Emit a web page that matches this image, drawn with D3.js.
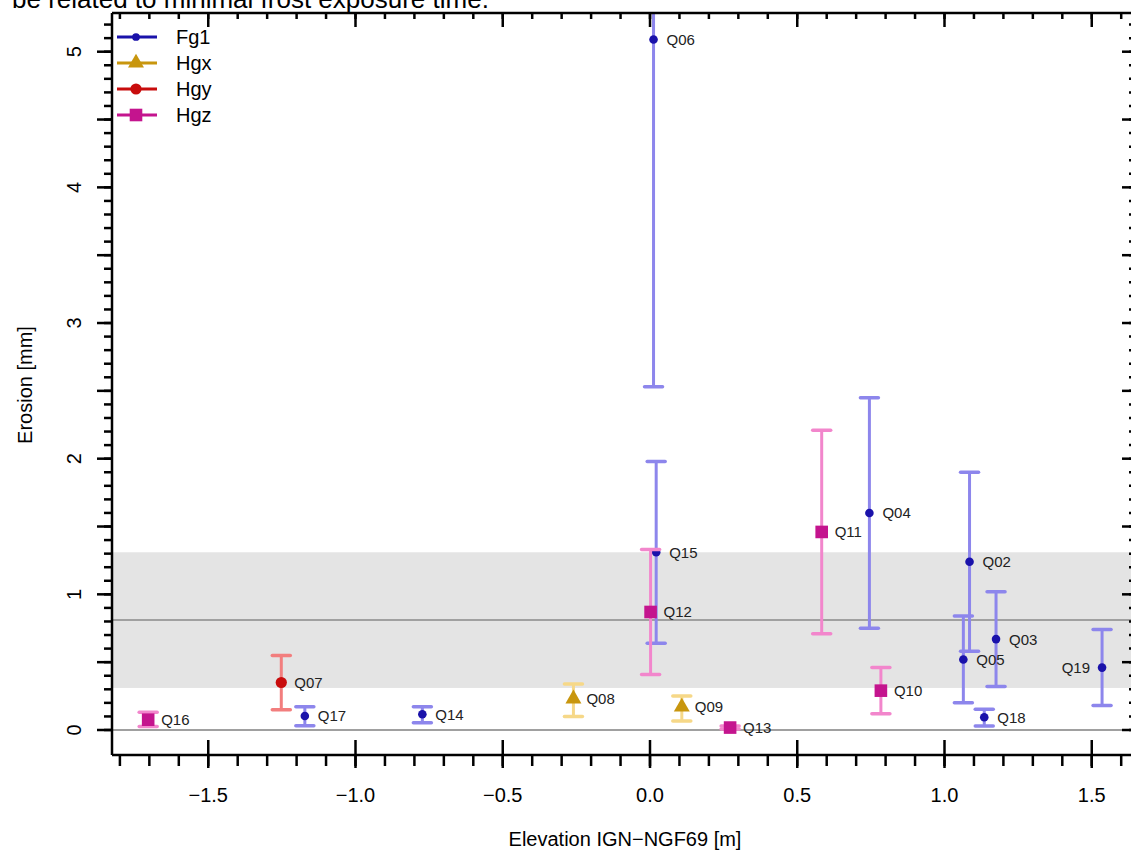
<!DOCTYPE html>
<html><head><meta charset="utf-8">
<script src="https://cdn.jsdelivr.net/npm/d3@7"></script>
<style>body{margin:0;background:#fff;} svg{display:block;font-family:"Liberation Sans",Arial,sans-serif;}</style>
</head><body><div id="chart"></div>
<script>
// ---- data ----
const seriesNames = ["Fg1","Hgx","Hgy","Hgz"];
const sampleIds   = ["Q06","Q15","Q04","Q02","Q05","Q03","Q18","Q19","Q17","Q14","Q08","Q09","Q07","Q12","Q11","Q10","Q16","Q13"];
const sampleGroup = ["Fg1","Fg1","Fg1","Fg1","Fg1","Fg1","Fg1","Fg1","Fg1","Fg1","Hgx","Hgx","Hgy","Hgz","Hgz","Hgz","Hgz","Hgz"];
const elevation   = [0.012,0.021,0.745,1.085,1.064,1.175,1.135,1.535,-1.172,-0.773,-0.260,0.108,-1.252,0.002,0.583,0.784,-1.704,0.272];
const erosion     = [5.09,1.31,1.60,1.24,0.52,0.67,0.094,0.46,0.103,0.116,0.23,0.17,0.35,0.87,1.46,0.29,0.076,0.018];
const erosionLow  = [2.53,0.64,0.75,0.58,0.20,0.32,0.029,0.18,0.032,0.054,0.10,0.066,0.15,0.41,0.71,0.12,0.025,0.008];
const erosionHigh = [7.65,1.98,2.45,1.90,0.84,1.02,0.153,0.74,0.172,0.172,0.34,0.25,0.55,1.33,2.21,0.46,0.13,0.030];
const labelSide   = ["r","r","r","r","r","r","r","l","r","r","r","r","r","r","r","r","r","r"];
const meanErosion = 0.81, bandLow = 0.31, bandHigh = 1.31;
const xTicksMajor = [-1.5,-1.0,-0.5,0.0,0.5,1.0,1.5];
const yTicksLabel = [0,1,2,3,4,5];
const xLabel = "Elevation IGN\u2212NGF69 [m]";
const yLabel = "Erosion [mm]";
const topText = "be related to minimal frost exposure time.";

// ---- styles ----
const markerColor = {Fg1:"#1a12aa", Hgx:"#c8960e", Hgy:"#c80c0c", Hgz:"#c4148e"};
const barColor    = {Fg1:"#8d86ec", Hgx:"#f6d888", Hgy:"#f27e7e", Hgz:"#f286cc"};
const W = 1131, H = 857;
const L = 112, R = 1133, T = 13, B = 755;

const svg = d3.select("#chart").append("svg").attr("width",W).attr("height",H);
const x = d3.scaleLinear().domain([(L-650)/294.5,(R-650)/294.5]).range([L,R]);
const y = d3.scaleLinear().domain([(730-B)/135.66,(730-T)/135.66]).range([B,T]);

svg.append("defs").append("clipPath").attr("id","clip")
  .append("rect").attr("x",L).attr("y",T).attr("width",R-L).attr("height",B-T);

svg.append("text").attr("x",12).attr("y",8).attr("font-size",26).attr("fill","#000").text(topText);

const plot = svg.append("g").attr("clip-path","url(#clip)");
plot.append("rect").attr("x",L).attr("width",R-L).attr("y",y(bandHigh)).attr("height",y(bandLow)-y(bandHigh)).attr("fill","#e4e4e4");
plot.append("line").attr("x1",L).attr("x2",R).attr("y1",y(meanErosion)).attr("y2",y(meanErosion)).attr("stroke","#a0a0a0").attr("stroke-width",2);
plot.append("line").attr("x1",L).attr("x2",R).attr("y1",y(0)).attr("y2",y(0)).attr("stroke","#a0a0a0").attr("stroke-width",2);

const rows = sampleIds.map((id,i)=>({id,g:sampleGroup[i],x:elevation[i],v:erosion[i],lo:erosionLow[i],hi:erosionHigh[i],side:labelSide[i]}));
const order = ["Fg1","Hgx","Hgy","Hgz"];
const capW = 9;
order.forEach(g=>{
  rows.filter(r=>r.g===g).forEach(r=>{
    const gg = plot.append("g");
    const cx = x(r.x);
    gg.append("line").attr("x1",cx).attr("x2",cx).attr("y1",y(r.lo)).attr("y2",y(r.hi)).attr("stroke",barColor[g]).attr("stroke-width",3);
    [r.lo,r.hi].forEach(v=>gg.append("line").attr("x1",cx-capW).attr("x2",cx+capW).attr("y1",y(v)).attr("y2",y(v)).attr("stroke",barColor[g]).attr("stroke-width",3.5).attr("stroke-linecap","round"));
    drawMarker(gg,g,cx,y(r.v),1);
  });
});
rows.forEach(r=>{
  const cx = x(r.x), cy = y(r.v);
  plot.append("text").attr("x", r.side==="r"? cx+13 : cx-12).attr("y",cy).attr("dy","0.36em")
    .attr("text-anchor", r.side==="r"?"start":"end").attr("font-size",15).attr("fill","#222").text(r.id);
});

function drawMarker(sel,g,cx,cy,s){
  if(g==="Fg1") sel.append("circle").attr("cx",cx).attr("cy",cy).attr("r",4.3*s).attr("fill",markerColor[g]);
  else if(g==="Hgy") sel.append("circle").attr("cx",cx).attr("cy",cy).attr("r",5.6*s).attr("fill",markerColor[g]);
  else if(g==="Hgz") sel.append("rect").attr("x",cx-6.3*s).attr("y",cy-6.3*s).attr("width",12.6*s).attr("height",12.6*s).attr("fill",markerColor[g]);
  else sel.append("path").attr("d",d3.symbol(d3.symbolTriangle, 110*s*s)()).attr("transform",`translate(${cx},${cy})`).attr("fill",markerColor[g]);
}

// ---- axes ----
const minorX = d3.range(-18,17).map(d=>d/10);
const minorY = d3.range(0,53).map(d=>d/10);
const majorY = d3.range(0,11).map(d=>d/2);
const ax = svg.append("g").attr("stroke","#000").attr("stroke-width",2.5);
// box
ax.append("line").attr("x1",L).attr("x2",R).attr("y1",B).attr("y2",B);
ax.append("line").attr("x1",L).attr("x2",R).attr("y1",T).attr("y2",T);
ax.append("line").attr("x1",L).attr("x2",L).attr("y1",T).attr("y2",B);
ax.append("line").attr("x1",R).attr("x2",R).attr("y1",T).attr("y2",B);
// bottom
minorX.forEach(v=>ax.append("line").attr("x1",x(v)).attr("x2",x(v)).attr("y1",B).attr("y2",B+11));
xTicksMajor.forEach(v=>ax.append("line").attr("x1",x(v)).attr("x2",x(v)).attr("y1",B-15).attr("y2",B+13));
// top (inward)
minorX.forEach(v=>ax.append("line").attr("x1",x(v)).attr("x2",x(v)).attr("y1",T).attr("y2",T+6));
xTicksMajor.forEach(v=>ax.append("line").attr("x1",x(v)).attr("x2",x(v)).attr("y1",T).attr("y2",T+14));
// left (outward)
minorY.forEach(v=>ax.append("line").attr("x1",L-8).attr("x2",L).attr("y1",y(v)).attr("y2",y(v)));
majorY.forEach(v=>ax.append("line").attr("x1",L-15).attr("x2",L).attr("y1",y(v)).attr("y2",y(v)));
// right (inward)
minorY.forEach(v=>ax.append("line").attr("x1",R-4).attr("x2",R).attr("y1",y(v)).attr("y2",y(v)));
majorY.forEach(v=>ax.append("line").attr("x1",R-11).attr("x2",R).attr("y1",y(v)).attr("y2",y(v)));

const fmt = d3.format(".1f");
xTicksMajor.forEach(v=>svg.append("text").attr("x",x(v)).attr("y",802).attr("text-anchor","middle").attr("font-size",20)
  .text(fmt(v).replace("-","\u2212")));
yTicksLabel.forEach(v=>svg.append("text").attr("transform",`translate(81,${y(v)}) rotate(-90)`).attr("text-anchor","middle").attr("font-size",20).text(v));
svg.append("text").attr("x",625).attr("y",846).attr("text-anchor","middle").attr("font-size",20).text(xLabel);
svg.append("text").attr("transform",`translate(32,385) rotate(-90)`).attr("text-anchor","middle").attr("font-size",20).text(yLabel);

// ---- legend ----
const lg = svg.append("g");
const legY = [37,63,89,115];
seriesNames.forEach((g,i)=>{
  lg.append("line").attr("x1",117).attr("x2",157).attr("y1",legY[i]).attr("y2",legY[i]).attr("stroke",markerColor[g]).attr("stroke-width",3);
  drawMarker(lg,g,136,legY[i],g==="Fg1"?0.9:1);
  lg.append("text").attr("x",176).attr("y",legY[i]).attr("dy","0.36em").attr("font-size",20).text(g);
});
</script></body></html>
